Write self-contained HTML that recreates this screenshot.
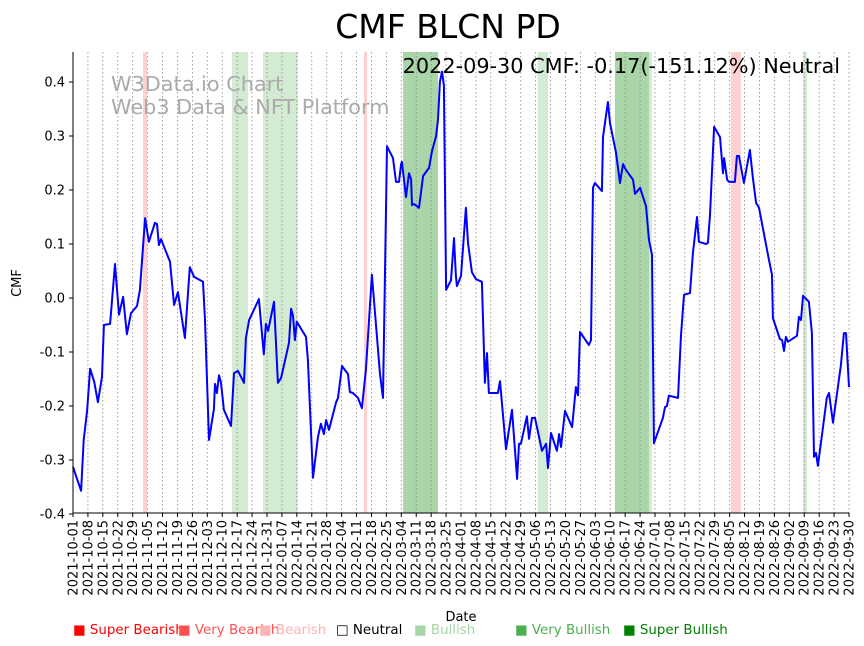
<!DOCTYPE html>
<html><head><meta charset="utf-8"><style>
body{margin:0;background:#fff;font-family:"DejaVu Sans","Liberation Sans",sans-serif}
svg{display:block}
</style></head><body>
<svg id="chart" width="864" height="646" viewBox="0 0 864 646" font-family="DejaVu Sans, Liberation Sans, sans-serif">
<text x="448" y="38" font-size="33" text-anchor="middle">CMF BLCN PD</text>
<g id="bands"></g>
<g id="grid"></g>
<text x="111" y="91" font-size="20.8" fill="#aaa">W3Data.io Chart</text>
<text x="111" y="114" font-size="20.8" fill="#aaa">Web3 Data &amp; NFT Platform</text>
<path id="line" fill="none" stroke="#0000ff" stroke-width="2" stroke-linejoin="round"/>
<g id="axes"></g>
<text x="840" y="73" font-size="20.8" text-anchor="end">2022-09-30 CMF: -0.17(-151.12%) Neutral</text>
<text transform="translate(21,283) rotate(-90)" font-size="13" text-anchor="middle">CMF</text>
<text x="461" y="621" font-size="13" text-anchor="middle">Date</text>
<g font-size="13.4">
<text x="73" y="634" fill="#ff0000">■ Super Bearish</text>
<text x="178" y="634" fill="#ff5050">■ Very Bearish</text>
<text x="259" y="634" fill="#ffb3b3">■ Bearish</text>
<text x="336" y="634" fill="#000">□ Neutral</text>
<text x="414" y="634" fill="#a8d5a8">■ Bullish</text>
<text x="515" y="634" fill="#4caf50">■ Very Bullish</text>
<text x="623" y="634" fill="#008000">■ Super Bullish</text>
</g>
</svg>
<script>
const days=[0,3.8,5,6.6,8,10,11.7,13.6,14.5,17.4,19.7,21.6,23.5,25.3,27.2,30,31.4,33.8,35.6,38.4,39.4,40.3,41.3,45.5,47.4,49.2,52.5,54.8,56.8,61,61.9,63.8,66.1,66.6,67.5,68.5,69.4,70.8,74.1,75.5,77.4,80.2,81.1,82.6,87.2,89.5,90.5,91.5,94.3,96.1,97.6,101.3,102.3,103.2,104.1,105,109.3,110.2,112.6,114.9,116.3,117.7,118.7,120.1,123.4,124.3,126.2,129,129.9,131.3,133.7,135.5,137.4,140.2,144,145.4,147.3,150.1,151.5,152.9,153.9,154.3,156.2,157.6,158.6,159,160,162.3,164.2,167,168.4,170.3,171.2,172.1,173.1,174,175,177.3,178.7,179.6,180.1,182,184.3,185.3,187.1,189,191.8,193.2,194.2,195.1,199.3,200.3,203.1,205.9,208.3,209.2,210.1,212.9,213.9,215.3,216.7,220,221.9,222.8,224.2,227,228,228.9,230.8,234.1,235.9,236.9,237.8,242,243,243.9,244.8,248.1,248.6,250.9,251.9,254.7,256.6,258,259.4,262.7,263.6,266,268.8,270.2,271.6,272.5,276.7,277.7,278.6,279.5,283.8,285.2,286.6,289.4,290.8,292.7,293.6,296.9,297.8,298.8,300.7,303.5,304.9,305.4,306.8,307.7,310.5,311.4,312.4,314.7,317.5,318.9,320.4,321.8,326.5,327.9,328.3,331.6,332.6,333.5,334.4,335.4,339.6,340.5,341.5,342.4,345.2,346.6,347.6,348.5,349.4,351.8,353.6,354.6,356.5,360.2,361.6,362.6,364];
const cmf=[-0.313,-0.357,-0.263,-0.209,-0.131,-0.156,-0.193,-0.146,-0.05,-0.048,0.063,-0.031,0.002,-0.067,-0.028,-0.015,0.015,0.148,0.104,0.139,0.137,0.098,0.109,0.067,-0.013,0.011,-0.074,0.057,0.039,0.03,-0.041,-0.263,-0.206,-0.159,-0.176,-0.143,-0.157,-0.207,-0.237,-0.139,-0.135,-0.157,-0.074,-0.041,-0.002,-0.104,-0.048,-0.061,-0.007,-0.157,-0.148,-0.083,-0.02,-0.033,-0.078,-0.044,-0.072,-0.115,-0.333,-0.257,-0.233,-0.252,-0.226,-0.244,-0.193,-0.185,-0.126,-0.141,-0.174,-0.176,-0.185,-0.204,-0.133,0.043,-0.141,-0.185,0.281,0.259,0.215,0.215,0.248,0.252,0.187,0.231,0.22,0.172,0.174,0.167,0.226,0.241,0.272,0.3,0.33,0.4,0.419,0.394,0.015,0.033,0.111,0.041,0.022,0.041,0.167,0.102,0.048,0.035,0.03,-0.157,-0.102,-0.176,-0.176,-0.154,-0.28,-0.207,-0.335,-0.27,-0.27,-0.219,-0.261,-0.222,-0.222,-0.283,-0.27,-0.315,-0.25,-0.283,-0.252,-0.276,-0.209,-0.239,-0.165,-0.18,-0.063,-0.087,-0.078,0.204,0.213,0.198,0.298,0.363,0.324,0.269,0.213,0.248,0.237,0.219,0.193,0.204,0.17,0.107,0.08,-0.269,-0.222,-0.202,-0.2,-0.181,-0.185,-0.069,0.006,0.009,0.083,0.15,0.104,0.1,0.102,0.154,0.317,0.298,0.231,0.259,0.219,0.215,0.215,0.263,0.263,0.213,0.274,0.222,0.176,0.167,0.069,0.043,-0.037,-0.076,-0.078,-0.098,-0.072,-0.081,-0.07,-0.035,-0.041,0.004,-0.007,-0.065,-0.294,-0.287,-0.311,-0.239,-0.185,-0.176,-0.231,-0.124,-0.065,-0.065,-0.165];
const yTicks=[-0.4,-0.3,-0.2,-0.1,0.0,0.1,0.2,0.3,0.4];
const bandStart=[32.8,74.6,89.1,136.5,154.8,218,254.2,270.2,308.6,342.4];
const bandEnd=[34.7,82.1,105.5,137.9,171.2,222.8,270.2,271.6,313.3,344.3];
const bandType=["bear","bull","bull","bear","vbull","bull","vbull","bull","bear","bull"];
const bandColor={bear:"#ffd0d0",bull:"#d3ead3",vbull:"#a9d5a9"};
const NS="http://www.w3.org/2000/svg";
const X0=73,X1=849,Y0=52,Y1=513;
const x=d=>X0+d*(X1-X0)/364;
const y=v=>298-v*540;
function mk(t,a,p){const e=document.createElementNS(NS,t);for(const k in a)e.setAttribute(k,a[k]);p.appendChild(e);return e;}
const bands=document.getElementById('bands');
bandStart.forEach((s,i)=>{const r=mk('rect',{x:x(s),y:Y0,width:x(bandEnd[i])-x(s),height:Y1-Y0,fill:bandColor[bandType[i]]},bands);

});
const grid=document.getElementById('grid'),axes=document.getElementById('axes');
const start=new Date(Date.UTC(2021,9,1));
for(let w=0;w<=52;w++){const d=w*7;const px=x(d);
const g=mk('line',{x1:px,x2:px,y1:Y0,y2:Y1,stroke:'#888','stroke-width':0.8,'stroke-dasharray':'1.5,2.5'},grid);


mk('line',{x1:px,x2:px,y1:Y1,y2:Y1+4,stroke:'#000'},axes);
const dt=new Date(start.getTime()+d*864e5);const lbl=dt.toISOString().slice(0,10);
const t=mk('text',{transform:`translate(${px+4.5},${Y1+7}) rotate(-90)`,'font-size':13,'text-anchor':'end'},axes);t.textContent=lbl;

}
yTicks.forEach(v=>{const py=y(v);mk('line',{x1:X0-4,x2:X0,y1:py,y2:py,stroke:'#000'},axes);
const t=mk('text',{x:X0-8,y:py+4.5,'font-size':13,'text-anchor':'end'},axes);t.textContent=v.toFixed(1);

});
mk('line',{x1:X0,x2:X0,y1:Y0,y2:Y1,stroke:'#000'},axes);
mk('line',{x1:X0,x2:X1,y1:Y1,y2:Y1,stroke:'#000'},axes);
document.getElementById('line').setAttribute('d',days.map((d,i)=>(i?'L':'M')+x(d).toFixed(1)+','+y(cmf[i]).toFixed(1)).join(''));
</script>
</body></html>
